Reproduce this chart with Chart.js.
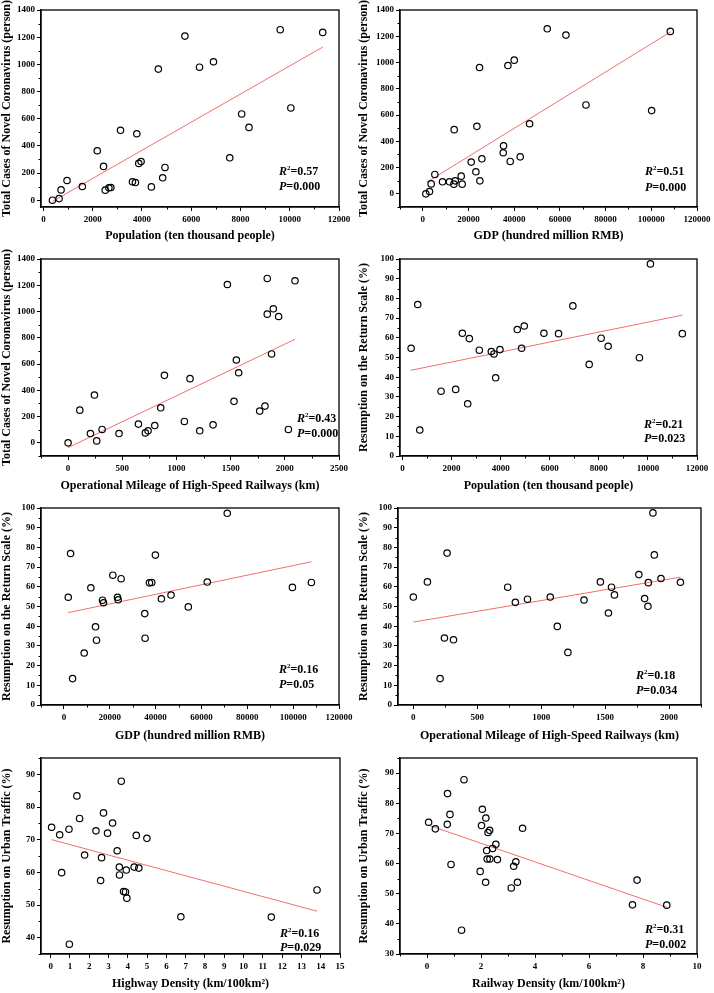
<!DOCTYPE html>
<html>
<head>
<meta charset="utf-8">
<script src="https://cdn.jsdelivr.net/npm/chart.js@4.4.1/dist/chart.umd.min.js"></script>
<style>
body { margin: 0; background: #fff; width: 714px; height: 993px; position: relative; overflow: hidden; }
.panel { position: absolute; }
</style>
</head>
<body>
<div class="panel" style="left:0;top:0"><canvas id="cA" width="357" height="245"></canvas></div>
<div class="panel" style="left:357px;top:0"><canvas id="cB" width="357" height="245"></canvas></div>
<div class="panel" style="left:0;top:245px"><canvas id="cC" width="357" height="250"></canvas></div>
<div class="panel" style="left:357px;top:245px"><canvas id="cD" width="357" height="250"></canvas></div>
<div class="panel" style="left:0;top:495px"><canvas id="cE" width="357" height="250"></canvas></div>
<div class="panel" style="left:357px;top:495px"><canvas id="cF" width="357" height="250"></canvas></div>
<div class="panel" style="left:0;top:745px"><canvas id="cG" width="357" height="248"></canvas></div>
<div class="panel" style="left:357px;top:745px"><canvas id="cH" width="357" height="248"></canvas></div>
<script>
// Population vs total cases
const populationA = [364, 634, 715, 957, 1578, 2184, 2440, 2508, 2656, 2737, 3128, 3613, 3734, 3789, 3870, 3964, 4382, 4665, 4840, 4935, 5744, 6337, 6903, 7564, 8049, 8346, 9613, 10045, 11339];
const casesA = [0, 12, 76, 145, 101, 364, 249, 74, 91, 93, 514, 135, 130, 489, 271, 285, 98, 965, 165, 241, 1208, 979, 1019, 312, 635, 536, 1255, 679, 1235];
const fitA = [[364, -9], [11339, 1127]];

// GDP vs total cases
const gdpB = [1314, 2920, 3650, 5255, 8613, 11679, 13723, 13577, 14161, 16788, 17226, 21168, 23212, 23650, 24818, 24964, 25839, 35328, 35182, 37226, 38248, 40000, 42628, 46715, 54453, 62628, 71387, 100146, 108321];
const casesB = [0, 18, 76, 148, 92, 92, 489, 74, 99, 135, 74, 242, 168, 514, 962, 99, 267, 366, 313, 977, 247, 1018, 282, 534, 1257, 1209, 677, 634, 1237];
const fitB = [[1752, 89], [108321, 1232]];

// High-speed railway mileage vs total cases
const hsrC = [0, 108, 206, 243, 264, 314, 470, 649, 713, 738, 800, 855, 889, 1073, 1125, 1215, 1338, 1470, 1531, 1553, 1574, 1768, 1817, 1838, 1838, 1878, 1894, 1943, 2033, 2094];
const casesC = [0, 249, 71, 364, 15, 102, 71, 143, 76, 92, 132, 267, 514, 163, 489, 92, 137, 1206, 316, 631, 534, 242, 280, 980, 1252, 677, 1021, 962, 102, 1234];
const fitC = [[0, -36], [2094, 789]];

// Population vs resumption on the return scale
const populationD = [353, 624, 705, 1573, 2169, 2441, 2658, 2725, 3132, 3620, 3729, 3797, 3973, 4678, 4854, 4963, 5763, 6359, 6942, 7607, 8095, 8380, 9654, 10102, 11403];
const resumeD = [54.7, 76.9, 13.2, 32.9, 33.8, 62.3, 26.5, 59.6, 53.7, 53.0, 51.8, 39.7, 54.0, 64.2, 54.7, 66.0, 62.3, 62.1, 76.2, 46.5, 59.8, 55.7, 49.9, 97.5, 62.1];
const fitD = [[339, 43.5], [11403, 71.5]];

// GDP vs resumption on the return scale
const gdpE = [1886, 2902, 3773, 8851, 11753, 13784, 14220, 16831, 17267, 21329, 23361, 23651, 24957, 35259, 35404, 37291, 38306, 39902, 42514, 46721, 54266, 62537, 71242, 99681, 107951];
const resumeE = [54.7, 76.9, 13.4, 26.4, 59.5, 39.7, 32.9, 53.2, 51.9, 65.9, 54.7, 53.4, 64.1, 46.4, 33.9, 62.0, 62.2, 76.1, 53.9, 55.8, 49.8, 62.4, 97.3, 59.7, 62.2];
const fitE = [[1886, 46.9], [107951, 72.7]];

// High-speed railway mileage vs resumption on the return scale
const hsrF = [0, 110, 209, 243, 264, 314, 738, 798, 893, 1071, 1126, 1209, 1335, 1463, 1526, 1550, 1573, 1764, 1809, 1835, 1838, 1874, 1885, 1937, 2089];
const resumeF = [54.8, 62.5, 13.4, 34.0, 77.1, 33.1, 59.8, 52.1, 53.7, 54.8, 39.9, 26.7, 53.3, 62.5, 46.7, 59.8, 55.9, 66.2, 54.0, 50.1, 62.1, 97.5, 76.2, 64.2, 62.3];
const fitF = [[0, 42.1], [2089, 64.9]];

// Highway density vs urban traffic
const highwayG = [0.05, 0.47, 0.57, 0.95, 0.97, 1.36, 1.50, 1.76, 2.35, 2.59, 2.64, 2.74, 2.95, 3.21, 3.45, 3.56, 3.57, 3.66, 3.78, 3.88, 3.92, 3.95, 4.33, 4.44, 4.57, 4.99, 6.75, 11.44, 13.81];
const trafficG = [73.8, 71.5, 59.9, 73.2, 38.0, 83.4, 76.5, 65.3, 72.7, 57.5, 64.5, 78.2, 72.0, 75.1, 66.6, 61.6, 59.2, 87.9, 54.1, 54.0, 60.7, 52.1, 61.6, 71.3, 61.3, 70.4, 46.4, 46.3, 54.6];
const fitG = [[0.05, 70.0], [13.81, 48.1]];

// Railway density vs urban traffic
const railwayH = [0.06, 0.31, 0.75, 0.76, 0.85, 0.89, 1.28, 1.37, 1.97, 2.02, 2.05, 2.17, 2.18, 2.21, 2.23, 2.26, 2.32, 2.33, 2.43, 2.55, 2.61, 3.12, 3.21, 3.29, 3.35, 3.54, 7.61, 7.78, 8.88];
const trafficH = [73.7, 71.5, 73.0, 83.2, 76.3, 59.7, 37.9, 87.8, 57.4, 72.6, 78.0, 53.8, 75.1, 64.3, 61.5, 70.3, 71.0, 61.5, 65.0, 66.4, 61.3, 51.9, 59.1, 60.6, 53.8, 71.7, 46.3, 54.5, 46.2];
const fitH = [[0.06, 72.7], [8.88, 45.5]];

// tick labels
const popTicks = [0, 2000, 4000, 6000, 8000, 10000, 12000];
const gdpTicks = [0, 20000, 40000, 60000, 80000, 100000, 120000];
const hsrTicks = [0, 500, 1000, 1500, 2000, 2500];
const casesTicks = [0, 200, 400, 600, 800, 1000, 1200, 1400];
const percentTicks = [0, 10, 20, 30, 40, 50, 60, 70, 80, 90, 100];
const highwayTicks = [0, 1, 2, 3, 4, 5, 6, 7, 8, 9, 10, 11, 12, 13, 14, 15];
const railwayTicks = [0, 2, 4, 6, 8, 10];
const trafficTicksG = [40, 50, 60, 70, 80, 90];
const trafficTicksH = [30, 40, 50, 60, 70, 80, 90];

// R² and P values
const r2Values = ['0.57', '0.51', '0.43', '0.21', '0.16', '0.18', '0.16', '0.31'];
const pValues = ['0.000', '0.000', '0.000', '0.023', '0.05', '0.034', '0.029', '0.002'];

const FONT = '"Liberation Serif", "Times New Roman", serif';
Chart.defaults.font.family = FONT;
Chart.defaults.color = '#000';

function midTicks(ticks, min, max) {
    let out = [];
    for (let i = 0; i < ticks.length - 1; i++) out.push((ticks[i] + ticks[i + 1]) / 2);
    const step = ticks[1] - ticks[0];
    if (ticks[0] - step / 2 >= min) out.push(ticks[0] - step / 2);
    if (ticks[ticks.length - 1] + step / 2 <= max) out.push(ticks[ticks.length - 1] + step / 2);
    return out;
}

// frame on top/right, minor ticks and the R²/P note
const framePlugin = {
    id: 'frame',
    afterDraw(chart, args, opts) {
        const ctx = chart.ctx;
        const a = chart.chartArea;
        const sx = chart.scales.x, sy = chart.scales.y;
        ctx.save();
        ctx.strokeStyle = '#000';
        ctx.lineWidth = 1.3;
        ctx.strokeRect(a.left, a.top, a.right - a.left, a.bottom - a.top);

        ctx.lineWidth = 1;
        ctx.beginPath();
        if (opts.minorX) {
            midTicks(opts.xTicks, sx.min, sx.max).forEach(v => {
                const px = Math.round(sx.getPixelForValue(v)) + 0.5;
                ctx.moveTo(px, a.bottom);
                ctx.lineTo(px, a.bottom + 2.5);
            });
        }
        midTicks(opts.yTicks, sy.min, sy.max).forEach(v => {
            const py = Math.round(sy.getPixelForValue(v)) + 0.5;
            ctx.moveTo(a.left, py);
            ctx.lineTo(a.left - 2.5, py);
        });
        ctx.stroke();

        // note text
        const x = a.right - opts.note[0];
        const y1 = a.bottom - opts.note[1];
        const y2 = a.bottom - opts.note[2];
        ctx.fillStyle = '#000';
        ctx.textBaseline = 'alphabetic';
        ctx.textAlign = 'left';
        ctx.font = 'italic bold 12px ' + FONT;
        ctx.fillText('R', x, y1);
        let w = ctx.measureText('R').width;
        ctx.font = 'bold 7px ' + FONT;
        ctx.fillText('2', x + w, y1 - 5);
        w += ctx.measureText('2').width;
        ctx.font = 'bold 12px ' + FONT;
        ctx.fillText('=' + opts.r2, x + w, y1);

        ctx.font = 'italic bold 12px ' + FONT;
        ctx.fillText('P', x, y2);
        w = ctx.measureText('P').width;
        ctx.font = 'bold 12px ' + FONT;
        ctx.fillText('=' + opts.p, x + w, y2);
        ctx.restore();
    }
};

function makePanel(p) {
    const points = p.xs.map((v, i) => ({ x: v, y: p.ys[i] }));
    const line = p.fit.map(f => ({ x: f[0], y: f[1] }));
    const axisBase = (ticks, title, range, fitFn) => ({
        type: 'linear',
        min: range[0],
        max: range[1],
        afterBuildTicks: s => { s.ticks = ticks.map(v => ({ value: v })); },
        afterFit: fitFn,
        grid: { drawOnChartArea: false, drawTicks: true, tickLength: 4, color: '#000', tickWidth: 1 },
        border: { display: true, color: '#000', width: 1.3 },
        ticks: {
            font: { size: 9, weight: 'bold' },
            color: '#000',
            padding: 2,
            maxRotation: 0,
            autoSkip: false,
            callback: v => String(v)
        },
        title: {
            display: true,
            text: title,
            font: { size: 12, weight: 'bold' },
            color: '#000',
            padding: { top: 0, bottom: 2 }
        }
    });
    const canvas = document.getElementById(p.id);
    const xAxis = axisBase(p.xTicks, p.xTitle, p.xRange, s => { s.height = canvas.height - p.box[3]; });
    xAxis.ticks.padding = 3;
    const yAxis = axisBase(p.yTicks, p.yTitle, p.yRange, s => { s.width = p.box[0]; });

    new Chart(canvas, {
        type: 'scatter',
        data: {
            datasets: [
                {
                    data: points,
                    pointStyle: 'circle',
                    pointRadius: 3.2,
                    pointBorderWidth: 1.2,
                    pointBorderColor: '#000',
                    pointBackgroundColor: 'rgba(0,0,0,0)',
                    showLine: false
                },
                {
                    data: line,
                    showLine: true,
                    pointRadius: 0,
                    borderColor: '#f26d6d',
                    borderWidth: 1
                }
            ]
        },
        options: {
            responsive: false,
            animation: false,
            layout: { padding: { left: 0, top: p.box[2], right: canvas.width - p.box[1], bottom: 0 } },
            plugins: {
                legend: { display: false },
                tooltip: { enabled: false },
                frame: {
                    minorX: p.minorX !== false,
                    xTicks: p.xTicks,
                    yTicks: p.yTicks,
                    note: p.note,
                    r2: p.r2,
                    p: p.p
                }
            },
            scales: { x: xAxis, y: yAxis }
        },
        plugins: [framePlugin]
    });
}

const casesTitle = 'Total Cases of Novel Coronavirus (person)';
const returnTitle = 'Resumption on the Return Scale (%)';
const trafficTitle = 'Resumption on Urban Traffic (%)';
const popTitle = 'Population (ten thousand people)';
const gdpTitle = 'GDP (hundred million RMB)';
const hsrTitle = 'Operational Mileage of High-Speed Railways (km)';

// box = [left, right, top, bottom] of the plot area in the canvas
makePanel({ id: 'cA', xs: populationA, ys: casesA, fit: fitA, xTicks: popTicks, yTicks: casesTicks,
    xRange: [-100, 12000], yRange: [-50, 1400], xTitle: popTitle, yTitle: casesTitle,
    box: [41, 339, 10, 207], note: [60, 32, 17], r2: r2Values[0], p: pValues[0] });
makePanel({ id: 'cB', xs: gdpB, ys: casesB, fit: fitB, xTicks: gdpTicks, yTicks: casesTicks,
    xRange: [-10000, 120000], yRange: [-100, 1400], xTitle: gdpTitle, yTitle: casesTitle,
    box: [43, 340, 10, 207], note: [52, 32, 16], r2: r2Values[1], p: pValues[1] });
makePanel({ id: 'cC', xs: hsrC, ys: casesC, fit: fitC, xTicks: hsrTicks, yTicks: casesTicks,
    xRange: [-250, 2500], yRange: [-100, 1400], xTitle: hsrTitle, yTitle: casesTitle,
    box: [41, 339, 14, 211], note: [42, 34, 19], r2: r2Values[2], p: pValues[2] });
makePanel({ id: 'cD', xs: populationD, ys: resumeD, fit: fitD, xTicks: popTicks, yTicks: percentTicks,
    xRange: [-100, 12000], yRange: [0, 100], xTitle: popTitle, yTitle: returnTitle,
    box: [43, 340, 14, 211], note: [53, 28, 14], r2: r2Values[3], p: pValues[3] });
makePanel({ id: 'cE', xs: gdpE, ys: resumeE, fit: fitE, xTicks: gdpTicks, yTicks: percentTicks,
    xRange: [-10000, 120000], yRange: [0, 100], xTitle: gdpTitle, yTitle: returnTitle,
    box: [41, 339, 13, 210], note: [60, 32, 17], r2: r2Values[4], p: pValues[4] });
makePanel({ id: 'cF', xs: hsrF, ys: resumeF, fit: fitF, xTicks: hsrTicks.slice(0, 5), yTicks: percentTicks,
    xRange: [-120, 2250], yRange: [0, 100], xTitle: hsrTitle, yTitle: returnTitle,
    box: [41, 344, 13, 210], note: [65, 26, 11], r2: r2Values[5], p: pValues[5] });
makePanel({ id: 'cG', xs: highwayG, ys: trafficG, fit: fitG, xTicks: highwayTicks, yTicks: trafficTicksG,
    xRange: [-0.5, 15], yRange: [35, 95], xTitle: 'Highway Density (km/100km²)', yTitle: trafficTitle,
    box: [41, 340, 13, 209], note: [60, 17, 3], r2: r2Values[6], p: pValues[6], minorX: false });
makePanel({ id: 'cH', xs: railwayH, ys: trafficH, fit: fitH, xTicks: railwayTicks, yTicks: trafficTicksH,
    xRange: [-1, 10], yRange: [30, 95], xTitle: 'Railway Density (km/100km²)', yTitle: trafficTitle,
    box: [43, 340, 13, 209], note: [52, 21, 6], r2: r2Values[7], p: pValues[7] });
</script>
</body>
</html>
